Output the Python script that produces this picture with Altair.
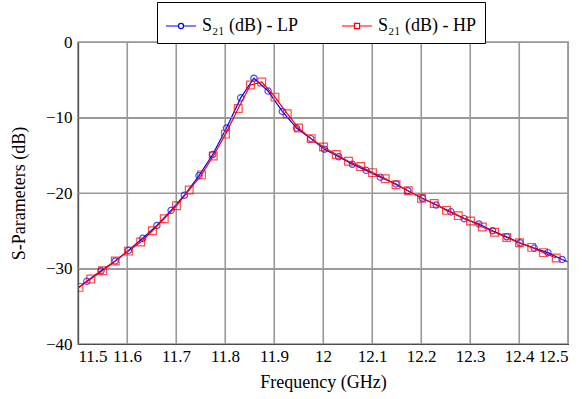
import altair as alt
import pandas as pd

# LP series (blue circles)
lp_freq = [11.489, 11.518, 11.547, 11.576, 11.603, 11.632, 11.661, 11.690, 11.717, 11.747,
           11.775, 11.803, 11.832, 11.859, 11.888, 11.917, 11.946, 11.975, 12.003, 12.032,
           12.060, 12.088, 12.117, 12.149, 12.173, 12.203, 12.231, 12.261, 12.288, 12.318,
           12.346, 12.375, 12.402, 12.431, 12.459, 12.488, 12.517]
lp_db = [-33.1, -31.7, -30.3, -29.0, -27.6, -26.0, -24.3, -22.3, -20.3, -17.7,
         -14.9, -11.4, -7.4, -4.8, -6.5, -9.2, -11.4, -12.8, -14.2, -15.2,
         -16.2, -17.0, -17.9, -18.8, -19.7, -20.7, -21.6, -22.5, -23.4, -24.1,
         -25.0, -25.8, -26.6, -27.3, -27.9, -28.8, -29.6]

# HP series (red squares)
hp_freq = [11.502, 11.526, 11.550, 11.576, 11.603, 11.628, 11.652, 11.676, 11.701, 11.727,
           11.752, 11.776, 11.801, 11.827, 11.852, 11.875, 11.902, 11.927, 11.950, 11.976,
           12.001, 12.027, 12.052, 12.077, 12.101, 12.127, 12.149, 12.174, 12.201, 12.227,
           12.252, 12.276, 12.301, 12.325, 12.350, 12.375, 12.401, 12.426, 12.450, 12.476]
hp_db = [-32.5, -31.4, -30.3, -29.0, -27.7, -26.5, -25.0, -23.4, -21.7, -19.6,
         -17.6, -15.1, -12.2, -8.8, -5.7, -5.3, -7.3, -9.5, -11.4, -12.8,
         -13.9, -14.9, -15.8, -16.5, -17.3, -18.1, -18.9, -19.7, -20.7, -21.4,
         -22.3, -23.0, -23.7, -24.5, -25.2, -25.9, -26.6, -27.2, -27.9, -28.6]

x_ticks = [11.5, 11.6, 11.7, 11.8, 11.9, 12.0, 12.1, 12.2, 12.3, 12.4, 12.5]
y_ticks = [0, -10, -20, -30, -40]
x_range = [11.5, 12.5]
y_range = [-40, 0]
series_names = ["LP", "HP"]
series_labels = ["S\u2082\u2081 (dB) - LP", "S\u2082\u2081 (dB) - HP"]
series_colors = ["#0000ff", "#ff0000"]

FONT = "Liberation Serif"
GRID = "#9a9a9a"

lp = pd.DataFrame({"freq": lp_freq, "db": lp_db, "series": "LP"})
hp = pd.DataFrame({"freq": hp_freq, "db": hp_db, "series": "HP"})
both = pd.concat([lp, hp], ignore_index=True)
xg = pd.DataFrame({"gx": x_ticks})
yg = pd.DataFrame({"gy": y_ticks})

x_scale = alt.Scale(domain=x_range, nice=False, zero=False)
y_scale = alt.Scale(domain=y_range, nice=False)

x_enc = alt.X("freq:Q", scale=x_scale,
              axis=alt.Axis(values=x_ticks, format="~g", title="Frequency (GHz)", grid=True,
                            gridColor=GRID, gridWidth=1.1, gridOpacity=1,
                            titleX=245, titleY=38, titleBaseline="middle",
                            labelPadding=4))
y_enc = alt.Y("db:Q", scale=y_scale,
              axis=alt.Axis(values=y_ticks, title="S-Parameters (dB)", grid=True,
                            gridColor=GRID, gridWidth=1.1, gridOpacity=1,
                            titleX=-59, titleY=151, titleBaseline="middle",
                            titleAlign="center", titleAngle=-90, labelPadding=6))

lp_line = alt.Chart(lp).mark_line(color=series_colors[0], strokeWidth=1.2, clip=True).encode(x=x_enc, y=y_enc)

# grid drawn as thin filled ticks as well (same positions as the axis grid)
x_grid = alt.Chart(xg).mark_tick(color=GRID, orient="vertical", thickness=1.1, size=302,
                                 opacity=1, filled=True).encode(x="gx:Q", y=alt.value(151))
y_grid = alt.Chart(yg).mark_tick(color=GRID, orient="horizontal", thickness=1.1, size=490,
                                 opacity=1, filled=True).encode(y="gy:Q", x=alt.value(245))

lp_pts = alt.Chart(lp).mark_point(shape="circle", color=series_colors[0], filled=False,
                                  size=40, strokeWidth=1.2, clip=True).encode(x="freq:Q", y="db:Q")
hp_line = alt.Chart(hp).mark_line(color=series_colors[1], strokeWidth=1.2, clip=True).encode(x="freq:Q", y="db:Q")
hp_pts = alt.Chart(hp).mark_point(shape="square", color=series_colors[1], filled=False,
                                  size=60, strokeWidth=1.2, clip=True).encode(x="freq:Q", y="db:Q")

lp_path = "M-1,0L-0.17,0M0.17,0L1,0M0.17,0A0.17,0.17 0 1,1 -0.17,0A0.17,0.17 0 1,1 0.17,0"
hp_path = "M-1,0L-0.17,0M0.17,0L1,0M-0.17,-0.17L0.17,-0.17L0.17,0.17L-0.17,0.17Z"

label_expr = "datum.value == 'LP' ? '%s' : '%s'" % (series_labels[0], series_labels[1])

legend = alt.Legend(title=None, orient="none", legendX=79, legendY=-40, direction="horizontal",
                    strokeColor="black", fillColor="white", padding=8, cornerRadius=0,
                    symbolSize=900, symbolStrokeWidth=1.2, symbolOpacity=1,
                    labelFont=FONT, labelFontSize=18, labelColor="black",
                    labelOffset=5, columnPadding=40, labelExpr=label_expr)

legend_layer = alt.Chart(both).mark_point(opacity=0, filled=False, clip=True).encode(
    x="freq:Q", y="db:Q",
    color=alt.Color("series:N", scale=alt.Scale(domain=series_names, range=series_colors), legend=legend),
    shape=alt.Shape("series:N", scale=alt.Scale(domain=series_names, range=[lp_path, hp_path]), legend=legend),
)

chart = alt.layer(lp_line, x_grid, y_grid, lp_pts, hp_line, hp_pts, legend_layer).properties(
    width=490, height=302,
    background="white",
    autosize=alt.AutoSizeParams(type="none"),
    padding={"left": 78, "top": 42, "right": 15, "bottom": 55},
).configure_view(stroke="black", strokeWidth=1.2).configure_axis(
    domain=True, domainColor="black", domainWidth=1.2,
    ticks=False, labelFont=FONT, labelFontSize=17, labelColor="black",
    titleFont=FONT, titleFontSize=18, titleFontWeight="normal", titleColor="black",
)

chart.save("out.html", embed_options={"renderer": "svg", "actions": False})
